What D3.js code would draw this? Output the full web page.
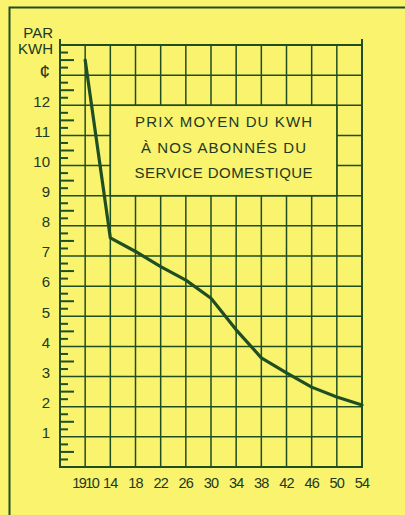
<!DOCTYPE html>
<html><head><meta charset="utf-8">
<script src="https://cdn.jsdelivr.net/npm/d3@7"></script>
<style>html,body{margin:0;padding:0;background:#f9f36e;}svg{display:block;}</style>
</head><body>
<script>
const years = [1910,1914,1918,1922,1926,1930,1934,1938,1942,1946,1950,1954];
const prices = [13.5,7.6,7.15,6.65,6.2,5.6,4.55,3.62,3.12,2.65,2.32,2.06];
const xTickLabels = ["1910","14","18","22","26","30","34","38","42","46","50","54"];
const yTickValues = [1,2,3,4,5,6,7,8,9,10,11,12,13];
const yTickLabels = ["1","2","3","4","5","6","7","8","9","10","11","12","¢"];
const unitLabel = ["PAR","KWH"];
const titleLines = ["PRIX MOYEN DU KWH","À NOS ABONNÉS DU","SERVICE DOMESTIQUE"];

const W=405,H=515, ink="#1f4e22", txt="#22391f", bg="#f9f36e";
const svg=d3.select("body").append("svg").attr("width",W).attr("height",H);
svg.append("rect").attr("width",W).attr("height",H).attr("fill",bg);
// outer frame
svg.append("path").attr("d",`M9.5,${H+5}V7.5H${W+5}`).attr("fill","none").attr("stroke",ink).attr("stroke-width",2);

const x=d3.scaleLinear().domain([1906,1954]).range([60,362]);
const y=d3.scaleLinear().domain([0,14]).range([467,45]);
const font="'Liberation Sans', Arial, sans-serif";

const g=svg.append("g");
// vertical grid
const vLines=d3.range(1910,1954,4);
g.selectAll(".vg").data(vLines).join("line")
  .attr("x1",d=>x(d)).attr("x2",d=>x(d)).attr("y1",y(14)).attr("y2",y(0))
  .attr("stroke",ink).attr("stroke-width",1.5);
// horizontal grid
g.selectAll(".hg").data(d3.range(1,14)).join("line")
  .attr("x1",x(1906)).attr("x2",x(1954)).attr("y1",d=>y(d)).attr("y2",d=>y(d))
  .attr("stroke",ink).attr("stroke-width",1.5);
// frame of plot
g.append("line").attr("x1",x(1906)).attr("x2",x(1954)).attr("y1",y(14)).attr("y2",y(14)).attr("stroke",ink).attr("stroke-width",2);
g.append("line").attr("x1",x(1906)-1).attr("x2",x(1954)+1).attr("y1",y(0)).attr("y2",y(0)).attr("stroke",ink).attr("stroke-width",2);
g.append("line").attr("x1",x(1906)).attr("x2",x(1906)).attr("y1",y(14)-6).attr("y2",y(0)).attr("stroke",ink).attr("stroke-width",2);
g.append("line").attr("x1",x(1954)).attr("x2",x(1954)).attr("y1",y(14)-6).attr("y2",y(0)).attr("stroke",ink).attr("stroke-width",2);

// minor ticks
const minor=d3.range(0,14,0.25).filter(v=>Math.abs(v-Math.round(v))>0.01);
g.selectAll(".mt").data(minor).join("line")
  .attr("x1",x(1906)).attr("x2",d=>x(1906)+(Math.abs(d%1-0.5)<0.01?14:8))
  .attr("y1",d=>y(d)).attr("y2",d=>y(d)).attr("stroke",ink).attr("stroke-width",2);

// y labels
g.selectAll(".yl").data(yTickValues).join("text")
  .attr("x",50).attr("y",d=>y(d)-4).attr("dy","0.35em").attr("text-anchor","end")
  .attr("font-family",font).attr("font-size",d=>d===13?19:15).attr("fill",txt)
  .text((d,i)=>yTickLabels[i]);
g.selectAll(".ul").data(unitLabel).join("text")
  .attr("x",53).attr("y",(d,i)=>38+i*16).attr("text-anchor","end")
  .attr("font-family",font).attr("font-size",15).attr("fill",txt).text(d=>d);

// x labels
g.selectAll(".xl").data(years).join("text")
  .attr("x",d=>x(d)).attr("y",488).attr("text-anchor","middle")
  .attr("font-family",font).attr("font-size",14.5).attr("letter-spacing",(d,i)=>i===0?-1.6:-0.8).attr("fill",txt)
  .text((d,i)=>xTickLabels[i]);

// title box
g.append("rect").attr("x",x(1914)).attr("y",y(12)).attr("width",x(1950)-x(1914)).attr("height",y(9)-y(12))
  .attr("fill",bg).attr("stroke",ink).attr("stroke-width",1.5);
const tw=[177,165,178];
g.selectAll(".tt").data(titleLines).join("text")
  .attr("x",(x(1914)+x(1950))/2).attr("y",(d,i)=>127+i*25.5).attr("text-anchor","middle")
  .attr("font-family",font).attr("font-size",15).attr("fill",txt)
  .attr("textLength",(d,i)=>tw[i]).attr("lengthAdjust","spacing").text(d=>d);

// data line
const line=d3.line().x((d,i)=>x(years[i])).y(d=>y(d));
g.append("path").attr("d",line(prices)).attr("fill","none").attr("stroke",ink)
  .attr("stroke-width",3.2).attr("stroke-linejoin","round").attr("stroke-linecap","round");
</script>
</body></html>
